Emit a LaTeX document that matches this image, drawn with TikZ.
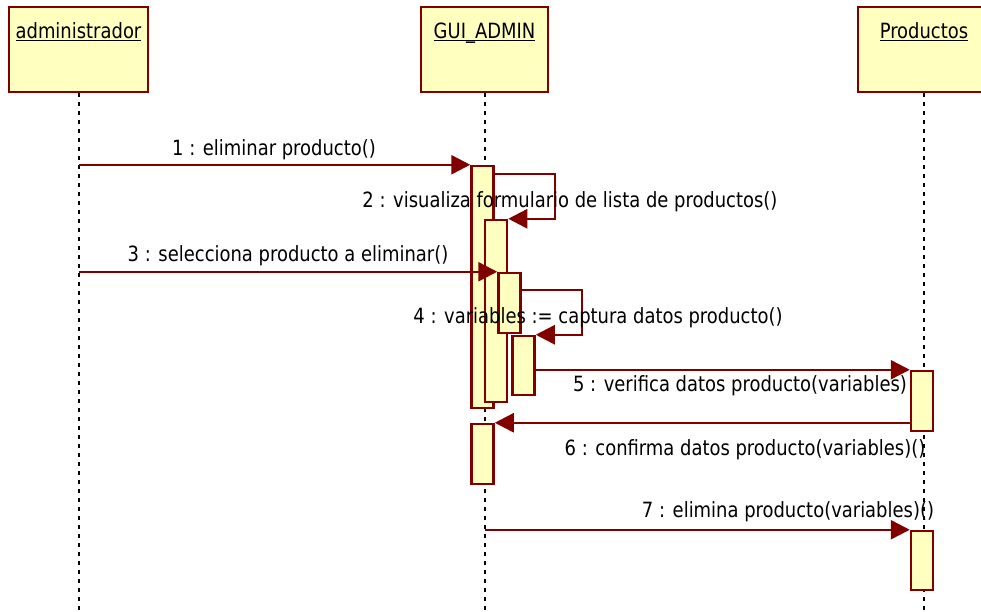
\documentclass[tikz,border=0pt]{standalone}
\usepackage{fontspec}
\setmainfont{DejaVu Sans Condensed}[FakeStretch=0.95]
\usepackage{tikz}
\usetikzlibrary{arrows.meta,positioning}
\definecolor{umlred}{RGB}{128,0,0}
\definecolor{umlyellow}{RGB}{255,255,192}

\begin{document}
\begin{tikzpicture}[
		x=1pt,y=-1pt,
		font=\fontsize{21}{25}\selectfont,
		head/.style={draw=umlred,fill=umlyellow,line width=2.5pt,minimum height=85pt,inner sep=0pt},
		act/.style={draw=umlred,fill=umlyellow,line width=2.5pt,minimum width=22pt,inner sep=0pt},
		lifeline/.style={line width=2pt,dash pattern=on 4pt off 5pt},
		msg/.style={-{Triangle[length=19pt,width=19pt]},draw=umlred,line width=2.5pt},
		txt/.style={anchor=base,inner sep=0pt}]
		\useasboundingbox (0,0) rectangle (981,611);
		\coordinate (bottom) at (0,611);
		
		% Draw heads
		\node[head,minimum width=139pt,label={[txt,yshift=-33pt]north:\underline{administrador}}] (adm) at (78.5,49.5) {};
		\node[head,minimum width=127pt,label={[txt,yshift=-33pt]north:\underline{GUI\smash{\_}ADMIN}}] (gui) at (484.5,49.5) {};
		\node[head,minimum width=132pt,label={[txt,yshift=-33pt]north:\underline{Productos}}] (prod) at (924,49.5) {};
		
		% lifelines
		\draw[lifeline] (adm.south) -- (adm.south |- bottom);
		\draw[lifeline] (gui.south) -- (gui.south |- bottom);
		\draw[lifeline] (prod.south) -- (prod.south |- bottom);
		
		% activations
		\node[act,minimum height=242pt] (a1) at (482.5,287) {};
		\node[act,minimum height=182pt] (a2) at (496,311) {};
		\node[act,minimum height=60pt] (a3) at (509.5,303) {};
		\node[act,minimum height=59pt] (a4) at (523.5,365.5) {};
		\node[act,minimum height=60pt] (a5) at (482.5,454) {};
		\node[act,minimum height=60pt] (p1) at (922,401) {};
		\node[act,minimum height=59pt] (p2) at (922,560.5) {};
		
		% messages
		\draw[msg] (adm.south |- a1.north west) -- (a1.north west);
		\draw[msg] ([yshift=-9pt]a1.north east) -- ++(60,0) |- (a2.north east);
		\draw[msg] (adm.south |- a3.north west) -- (a3.north west);
		\draw[msg] ([yshift=-18pt]a3.north east) -- ++(60,0) |- (a4.north east);
		\draw[msg] ([yshift=-35pt]a4.north east) -- (p1.north west);
		\draw[msg] (a5.north east -| p1.west) -- (a5.north east);
		\draw[msg] (gui.south |- p2.north west) -- (p2.north west);
		
		\node[txt] (t1) at (274,155) {1 : eliminar producto()};
		\node[txt] (t2) at (570,207) {2 : visualiza formulario de lista de productos()};
		\node[txt] (t3) at (288,261) {3 : selecciona producto a eliminar()};
		\node[txt] (t4) at (598,323) {4 : variables := captura datos producto()};
		\node[txt] (t5) at (740,391) {5 : verifica datos producto(variables)};
		\node[txt] (t6) at (745,455) {6 : confirma datos producto(variables)()};
		\node[txt] (t7) at (788,517) {7 : elimina producto(variables)()};
\end{tikzpicture}
\end{document}
